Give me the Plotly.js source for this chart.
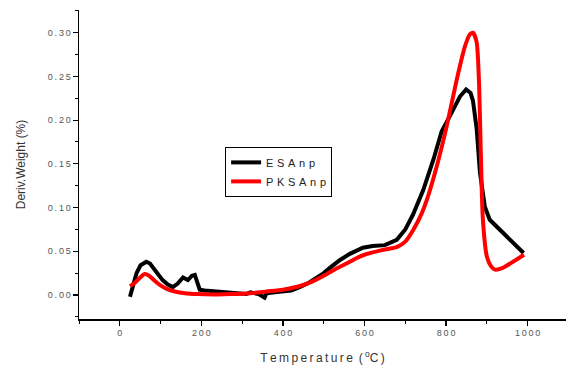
<!DOCTYPE html>
<html>
<head>
<meta charset="utf-8">
<script src="https://cdn.plot.ly/plotly-3.0.1.min.js"></script>
<style>html,body{margin:0;padding:0;background:#fff;}</style>
</head>
<body>
<div id="chart" style="width:566px;height:365px;"></div>
<script>
// ESAnp (black)
const esaT = [25, 32, 41, 51, 65, 74, 81, 93, 105, 118, 130, 142, 155, 167, 177, 184, 191, 196, 208, 240, 270, 300, 310, 320, 340, 355, 360, 380, 400, 420, 441, 460, 480, 500, 515, 540, 564, 580, 596, 620, 650, 679, 700, 719, 744, 769, 789, 813, 834, 849, 860, 866, 875, 883, 895, 907, 920, 939, 964, 990];
const esaV = [-0.002, 0.012, 0.025, 0.034, 0.038, 0.036, 0.032, 0.024, 0.017, 0.012, 0.009, 0.013, 0.020, 0.017, 0.022, 0.023, 0.014, 0.006, 0.005, 0.004, 0.003, 0.002, 0.001, 0.003, 0.001, -0.003, 0.002, 0.003, 0.004, 0.005, 0.009, 0.013, 0.019, 0.025, 0.031, 0.040, 0.047, 0.051, 0.054, 0.056, 0.057, 0.063, 0.075, 0.092, 0.120, 0.155, 0.187, 0.208, 0.227, 0.235, 0.231, 0.222, 0.190, 0.140, 0.101, 0.086, 0.080, 0.071, 0.059, 0.048];
// PKSAnp (red)
const pksT = [25, 37, 50, 61, 72, 86, 100, 115, 135, 160, 190, 230, 270, 320, 360, 400, 440, 470, 500, 530, 556, 580, 600, 640, 680, 700, 719, 740, 753, 777, 801, 826, 846, 858, 866, 875, 881, 885, 890, 900, 910, 920, 939, 964, 991];
const pksV = [0.010, 0.014, 0.020, 0.024, 0.022, 0.016, 0.011, 0.007, 0.004, 0.002, 0.001, 0.0005, 0.001, 0.002, 0.004, 0.006, 0.010, 0.015, 0.022, 0.030, 0.036, 0.042, 0.046, 0.051, 0.055, 0.061, 0.074, 0.093, 0.109, 0.147, 0.192, 0.246, 0.284, 0.298, 0.300, 0.289, 0.240, 0.165, 0.088, 0.044, 0.033, 0.029, 0.031, 0.038, 0.046];

const seriesNames = ["E\u2004S\u2004A\u2004n\u2004p", "P\u2004K\u2004S\u2004A\u2004n\u2004p"];
const xTickVals = [0, 200, 400, 600, 800, 1000];
const xTickText = ["0", "2\u20090\u20090", "4\u20090\u20090", "6\u20090\u20090", "8\u20090\u20090", "1\u20090\u20090\u20090"];
const yTickVals = [0, 0.05, 0.10, 0.15, 0.20, 0.25, 0.30];
const yTickText = ["0\u2009.\u20090\u20090", "0\u2009.\u20090\u20095", "0\u2009.\u20091\u20090", "0\u2009.\u20091\u20095", "0\u2009.\u20092\u20090", "0\u2009.\u20092\u20095", "0\u2009.\u20093\u20090"];

const traces = [
  {x: esaT, y: esaV, name: seriesNames[0], mode: 'lines', line: {color: '#000000', width: 4, shape: 'linear'}},
  {x: pksT, y: pksV, name: seriesNames[1], mode: 'lines', line: {color: '#ff0000', width: 4, shape: 'spline', smoothing: 0.6}}
];

const axisFont = {family: 'Arial, Liberation Sans, sans-serif', size: 9, color: '#555555'};

const layout = {
  width: 566, height: 365,
  margin: {l: 79, r: 0, t: 10, b: 46, pad: 0},
  paper_bgcolor: '#ffffff', plot_bgcolor: '#ffffff',
  showlegend: true,
  legend: {
    x: 0.30, y: 0.557, xanchor: 'left', yanchor: 'top',
    bordercolor: '#000000', borderwidth: 1, bgcolor: '#ffffff',
    font: {family: 'Arial, Liberation Sans, sans-serif', size: 11, color: '#222222'},
    tracegroupgap: 0, itemwidth: 30
  },
  xaxis: {
    range: [-100, 1094], showgrid: false, zeroline: false,
    showline: true, linecolor: '#000000', linewidth: 1.5,
    ticks: 'outside', ticklen: 5, tickwidth: 1.2, tickcolor: '#000000',
    tickvals: xTickVals, ticktext: xTickText, tickfont: axisFont,
    minor: {ticks: 'outside', ticklen: 3, tickwidth: 1, tickcolor: '#000000', dtick: 100, tick0: -100},
    title: {text: 'T\u2009e\u2009m\u2009p\u2009e\u2009r\u2009a\u2009t\u2009u\u2009r\u2009e\u2009 (\u2009<sup>o</sup>C\u2009)', font: {family: 'Arial, Liberation Sans, sans-serif', size: 12, color: '#333333'}, standoff: 16}
  },
  yaxis: {
    range: [-0.0275, 0.326], showgrid: false, zeroline: false,
    showline: true, linecolor: '#000000', linewidth: 1.5,
    ticks: 'outside', ticklen: 5, tickwidth: 1.2, tickcolor: '#000000',
    tickvals: yTickVals, ticktext: yTickText, tickfont: axisFont,
    minor: {ticks: 'outside', ticklen: 3, tickwidth: 1, tickcolor: '#000000', dtick: 0.025, tick0: 0},
    title: {text: 'Deriv.Weight (%)', font: {family: 'Arial, Liberation Sans, sans-serif', size: 12, color: '#333333'}, standoff: 19}
  }
};

Plotly.newPlot('chart', traces, layout, {displayModeBar: false, staticPlot: true});
</script>
</body>
</html>
